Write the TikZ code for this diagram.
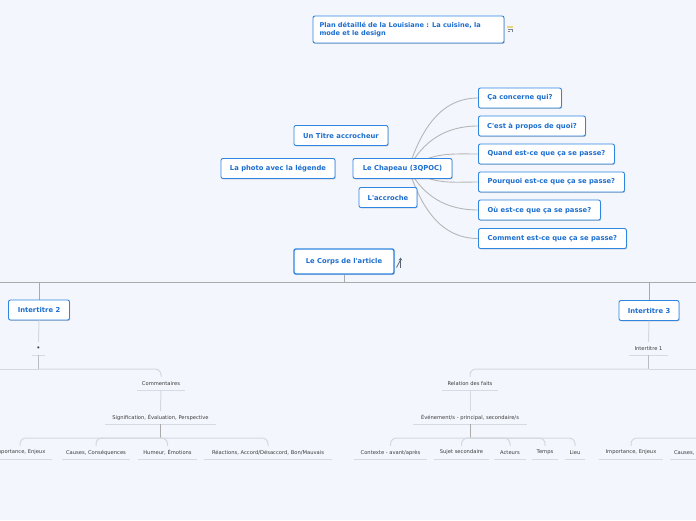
\documentclass[tikz,border=0pt]{standalone}
\usepackage{fontspec}
\setmainfont{DejaVu Sans}[Ligatures=TeXOff]
\usetikzlibrary{shadows,arrows.meta}
\definecolor{bgc}{RGB}{243,246,253}
\definecolor{nodeb}{RGB}{47,134,224}
\definecolor{nodet}{RGB}{28,110,208}
\definecolor{lineg}{RGB}{170,170,170}
\definecolor{linem}{RGB}{185,188,194}
\definecolor{linel}{RGB}{212,216,224}
\definecolor{ulc}{RGB}{214,218,226}
\definecolor{smalltxt}{RGB}{60,60,60}
\definecolor{iconc}{RGB}{90,100,115}
\definecolor{icony}{RGB}{232,214,120}
\pgfdeclarelayer{back}
\pgfsetlayers{back,main}
\begin{document}
\begin{tikzpicture}[x=1pt,y=-1pt,
  box/.style={draw=nodeb, line width=0.9pt, fill=white, rounded corners=2pt,
    minimum height=20pt, inner xsep=0pt, inner ysep=0pt,
    font=\fontsize{6.8}{8.5}\selectfont\bfseries, text=nodet,
    drop shadow={shadow xshift=0.7pt, shadow yshift=-0.9pt, opacity=0.22, fill=black}},
  lbl/.style={font=\fontsize{5.2}{6}\selectfont, text=smalltxt, minimum height=13pt, inner sep=0pt},
  ul/.style={draw=ulc, line width=1.4pt},
  mainl/.style={draw=lineg, line width=1pt},
  midl/.style={draw=linem, line width=1pt},
  lite/.style={draw=linel, line width=1pt},
  curv/.style={draw=lineg!85, line width=0.9pt},
  kid/.style={lite, rounded corners=6pt}
]
\clip (0,0) rectangle (696,520);
\begin{pgfonlayer}{back}
  \fill[bgc] (0,0) rectangle (696,520);
\end{pgfonlayer}

% top-level nodes
\node[box, minimum width=191pt, minimum height=27pt, text width=178pt, align=left,
  font=\fontsize{6.6}{8.6}\selectfont\bfseries] (title) at (408.5,29.5)
  {Plan détaillé de la Louisiane : La cuisine, la\\mode et le design};

\node[box, minimum width=94pt] (titre) at (341,135.5) {Un Titre accrocheur};
\node[box, minimum width=114pt] (photo) at (278,168.5) {La photo avec la légende};
\node[box, minimum width=99pt] (chap) at (402.5,168.5) {Le Chapeau (3QPOC)};
\node[box, minimum width=58pt] (accr) at (388,197.5) {L'accroche};

\node[box, anchor=west, minimum width=83pt]  (q1) at (478,98)  {Ça concerne qui?};
\node[box, anchor=west, minimum width=107pt] (q2) at (478,126) {C'est à propos de quoi?};
\node[box, anchor=west, minimum width=136pt] (q3) at (478,154) {Quand est-ce que ça se passe?};
\node[box, anchor=west, minimum width=146pt] (q4) at (478,182) {Pourquoi est-ce que ça se passe?};
\node[box, anchor=west, minimum width=122pt] (q5) at (478,210) {Où est-ce que ça se passe?};
\node[box, anchor=west, minimum width=148pt] (q6) at (478,238.5) {Comment est-ce que ça se passe?};

\node[box, line width=1.4pt, minimum width=100pt, minimum height=25pt] (corps) at (344,261.5) {Le Corps de l'article};
\node[box, minimum width=61pt] (it2) at (39,310) {Intertitre 2};
\node[box, minimum width=60pt] (it3) at (649,310.5) {Intertitre 3};

% small labels, left
\node[lbl, minimum width=13pt, font=\fontsize{7}{7}\selectfont]  (dot)  at (38.5,348.5) {•};
\node[lbl, minimum width=48pt]  (comm) at (161,383.5) {Commentaires};
\node[lbl, minimum width=111pt] (sig)  at (160.5,417.5) {Signification, Évaluation, Perspective};
\node[lbl, minimum width=64pt]  (imp1) at (20,452.5) {Importance, Enjeux};
\node[lbl, minimum width=68pt]  (cau1) at (96,452.5) {Causes, Conséquences};
\node[lbl, minimum width=59pt]  (hum)  at (167.5,452.5) {Humeur, Émotions};
\node[lbl, minimum width=128pt] (rea)  at (268,452.5) {Réactions, Accord/Désaccord, Bon/Mauvais};
% small labels, right
\node[lbl, minimum width=39pt]  (it1)  at (648.5,348.5) {Intertitre 1};
\node[lbl, minimum width=55pt]  (rel)  at (470,383.5) {Relation des faits};
\node[lbl, minimum width=114pt] (evt)  at (470,417.5) {Événement/s - principal, secondaire/s};
\node[lbl, minimum width=73pt]  (ctx)  at (390.5,452.5) {Contexte - avant/après};
\node[lbl, minimum width=55pt]  (suj)  at (461.5,452.5) {Sujet secondaire};
\node[lbl, minimum width=31pt]  (act)  at (510,452.5) {Acteurs};
\node[lbl, minimum width=26pt]  (tmp)  at (545,452.5) {Temps};
\node[lbl, minimum width=20pt]  (lieu) at (575,452.5) {Lieu};
\node[lbl, minimum width=64pt]  (imp2) at (631,452.5) {Importance, Enjeux};
\node[lbl, minimum width=68pt]  (cau2) at (704,452.5) {Causes, Conséquences};

\foreach \n in {dot,comm,sig,imp1,cau1,hum,rea,it1,rel,evt,ctx,suj,act,tmp,lieu,imp2,cau2}
  \draw[ul] (\n.south west) -- (\n.south east);

% named junction points
\coordinate (busC) at (344,282);
\coordinate (busL) at (-5,282);
\coordinate (busR) at (701,282);
\coordinate (jL) at (38.5,369);
\coordinate (offL) at (-5,369);
\coordinate (jS) at (160.5,438);
\coordinate (jR) at (648.5,369);
\coordinate (offR) at (701,369);
\coordinate (jE) at (470,438);
\coordinate (offR2) at (760,438);

\begin{pgfonlayer}{back}
  % chapeau questions
  \draw[curv] ([xshift=6pt]chap.center) to[out=72,in=180] (q1.west);
  \draw[curv] ([xshift=6pt]chap.center) to[out=62,in=180] (q2.west);
  \draw[curv] ([xshift=8pt]chap.center) to[out=38,in=180] (q3.west);
  \draw[curv] ([xshift=8pt]chap.center) to[out=-38,in=180] (q4.west);
  \draw[curv] ([xshift=6pt]chap.center) to[out=-62,in=180] (q5.west);
  \draw[curv] ([xshift=6pt]chap.center) to[out=-72,in=180] (q6.west);
  % main bus
  \draw[mainl] (corps.south) -- (busC);
  \draw[mainl] (busL) -- (busR);
  \draw[mainl] (busC) -| (it2.north);
  \draw[mainl] (busC) -| (it3.north);
\end{pgfonlayer}

% left subtree
\draw[lite] (it2.south) to[out=-90,in=90] (dot.north);
\draw[midl] (dot.south) -- (jL);
\draw[lite] (jL) -- (offL);
\draw[kid] (jL) -| (comm.north);
\draw[lite] (comm.south) -- (sig.north);
\draw[midl, draw=lineg] (sig.south) -- (jS);
\foreach \c in {imp1,cau1,hum,rea} \draw[kid] (jS) -| (\c.north);

% right subtree
\draw[lite] (it3.south) to[out=-90,in=90] (it1.north);
\draw[midl] (it1.south) -- (jR);
\draw[lite] (jR) -- (offR);
\draw[kid] (jR) -| (rel.north);
\draw[lite] (rel.south) -- (evt.north);
\draw[midl, draw=lineg] (evt.south) -- (jE);
\foreach \c in {ctx,suj,act,tmp,lieu} \draw[kid] (jE) -| (\c.north);
\foreach \c in {imp2,cau2} \draw[kid] (offR2) -| (\c.north);

% small icons
\fill[icony] (507,26) rectangle (513,28.2);
\draw[iconc!80, line width=0.8pt] (507.5,29.5) -- (512,29.5) -- (512,32);
\draw[iconc!80, line width=0.6pt] (508,31.5) -- (510,31.5);
\draw[iconc, line width=0.9pt, -{Stealth[length=3pt,width=3.6pt]}] (400.5,267.5) -- (400.5,257.5);
\draw[iconc, line width=0.8pt] (396.5,267.5) -- (400.5,260);
\end{tikzpicture}
\end{document}
